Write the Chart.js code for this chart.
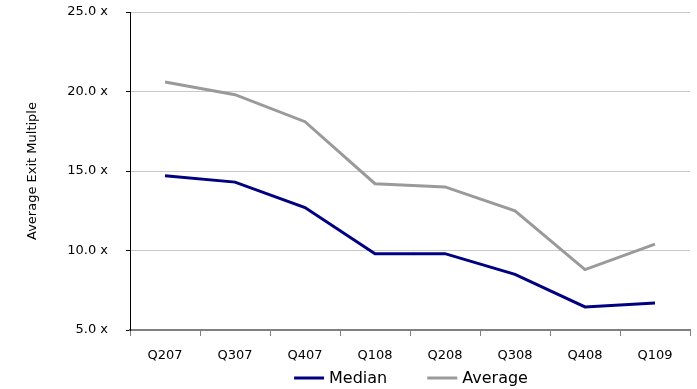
<!DOCTYPE html>
<html>
<head>
<meta charset="utf-8">
<script src="https://cdn.jsdelivr.net/npm/chart.js@4"></script>
<style>
  html, body { margin: 0; padding: 0; background: #ffffff; }
  #wrap { width: 697px; height: 389px; }
</style>
</head>
<body>
<div id="wrap"><canvas id="c" width="697" height="389"></canvas></div>
<script>
// Quarterly exit multiples
const quarters = ['Q207', 'Q307', 'Q407', 'Q108', 'Q208', 'Q308', 'Q408', 'Q109'];
const medianMultiple = [14.7, 14.3, 12.7, 9.8, 9.8, 8.5, 6.45, 6.7];
const averageMultiple = [20.6, 19.8, 18.1, 14.2, 14.0, 12.5, 8.8, 10.4];
const yTickValues = [5, 10, 15, 20, 25];

const FONT = "'DejaVu Sans', Verdana, sans-serif";

// Legend row under the axis: a short line swatch followed by the series name
const bottomLegend = {
  id: 'bottomLegend',
  afterDraw(chart) {
    const ctx = chart.ctx;
    const area = chart.chartArea;
    const swatch = 30, swatchGap = 5, itemGap = 40;
    ctx.save();
    ctx.font = '16px ' + FONT;
    const items = chart.data.datasets.map(ds => ({
      label: ds.label,
      color: ds.borderColor,
      width: ds.borderWidth,
      textW: ctx.measureText(ds.label).width
    }));
    let total = 0;
    items.forEach((it, i) => {
      total += swatch + swatchGap + it.textW + (i < items.length - 1 ? itemGap : 0);
    });
    let x = (area.left + area.right) / 2 - total / 2 + 1;
    const y = 378;
    items.forEach(it => {
      ctx.strokeStyle = it.color;
      ctx.lineWidth = it.width;
      ctx.lineCap = 'butt';
      ctx.beginPath();
      ctx.moveTo(x, y);
      ctx.lineTo(x + swatch, y);
      ctx.stroke();
      x += swatch + swatchGap;
      ctx.fillStyle = '#000000';
      ctx.textAlign = 'left';
      ctx.textBaseline = 'middle';
      ctx.fillText(it.label, x, y + 1);
      x += it.textW + itemGap;
    });
    ctx.restore();
  }
};

new Chart(document.getElementById('c'), {
  type: 'line',
  data: {
    labels: quarters,
    datasets: [
      {
        label: 'Median',
        data: medianMultiple,
        borderColor: '#000080',
        backgroundColor: '#000080',
        borderWidth: 3,
        pointRadius: 0,
        tension: 0
      },
      {
        label: 'Average',
        data: averageMultiple,
        borderColor: '#9a9a9a',
        backgroundColor: '#9a9a9a',
        borderWidth: 3,
        pointRadius: 0,
        tension: 0
      }
    ]
  },
  options: {
    responsive: false,
    animation: false,
    devicePixelRatio: 1,
    layout: { padding: { left: 0, right: 7, top: 0, bottom: 22 } },
    plugins: {
      tooltip: { enabled: false },
      legend: { display: false }
    },
    scales: {
      x: {
        offset: true,
        grid: {
          display: true,
          drawOnChartArea: false,
          offset: true,
          tickLength: 6,
          tickColor: '#808080',
          lineWidth: 1
        },
        border: { display: true, color: '#808080', width: 2 },
        ticks: {
          color: '#000000',
          padding: 12,
          maxRotation: 0,
          font: { family: FONT, size: 13 }
        },
        afterFit: (s) => { s.height = 37; }
      },
      y: {
        min: 5,
        max: 25,
        afterBuildTicks: (s) => { s.ticks = yTickValues.map(v => ({ value: v })); },
        grid: {
          color: (ctx) => ctx.tick && ctx.tick.value === 5 ? 'rgba(0,0,0,0)' : '#c8c8c8',
          tickColor: '#000000',
          tickLength: 4,
          lineWidth: 1
        },
        border: { display: true, color: '#000000', width: 1 },
        ticks: {
          color: '#000000',
          padding: 18,
          font: { family: FONT, size: 13 },
          callback: (v) => Number(v).toFixed(1) + ' x'
        },
        title: {
          display: true,
          text: 'Average Exit Multiple',
          color: '#000000',
          padding: { top: 25, bottom: 0 },
          font: { family: FONT, size: 13 }
        },
        afterFit: (s) => { s.width = 130; s.paddingTop = 12; s.paddingBottom = 8; }
      }
    }
  },
  plugins: [bottomLegend]
});
</script>
</body>
</html>
